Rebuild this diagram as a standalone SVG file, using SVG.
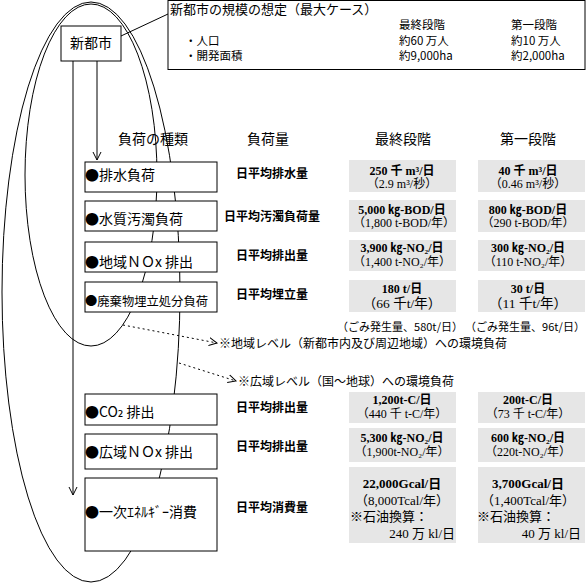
<svg xmlns="http://www.w3.org/2000/svg" width="586" height="583" viewBox="0 0 586 583">
<defs>
<marker id="v" markerWidth="10" markerHeight="10" refX="8" refY="4" orient="auto" markerUnits="userSpaceOnUse" viewBox="0 0 10 8">
<path d="M0,0 L8,4 L0,8" fill="none" stroke="#000" stroke-width="1"/>
</marker>
<style>
.box{fill:#fff;stroke:#000;stroke-width:1}
.grey{fill:#e6e6e6;stroke:none}
.g{font-family:"Noto Sans CJK JP","DejaVu Sans",sans-serif;fill:#000}
.lbl{font-size:14px}
.hd{font-size:14px;text-anchor:middle}
.amt{font-size:12px;font-weight:bold;text-anchor:middle}
.v1{font-family:"Liberation Serif","Noto Sans CJK JP",serif;font-size:12px;font-weight:bold;text-anchor:middle;fill:#000}
.v2{font-family:"Liberation Serif","Noto Sans CJK JP",serif;font-size:12px;text-anchor:middle;fill:#000}
.vl{font-family:"Liberation Serif","Noto Sans CJK JP",serif;font-size:13px;fill:#000}
.note{font-size:12px}
.info{font-size:11.5px}
.line{fill:none;stroke:#000;stroke-width:1}
.dot{fill:none;stroke:#000;stroke-width:1;stroke-dasharray:2,3}
</style>
</defs>
<rect width="586" height="583" fill="#fff"/>

<g id="connectors">
<ellipse class="line" cx="91" cy="175" rx="66" ry="171"/>
<ellipse class="line" cx="91" cy="292" rx="89" ry="290"/>
<line class="line" x1="121" y1="36" x2="168" y2="14"/>
<line class="line" x1="73" y1="61" x2="73" y2="495" marker-end="url(#v)"/>
<line class="line" x1="97" y1="61" x2="97" y2="160" marker-end="url(#v)"/>
<line class="dot" x1="123" y1="325" x2="217" y2="343" marker-end="url(#v)"/>
<line class="dot" x1="179" y1="363" x2="236" y2="381" marker-end="url(#v)"/>
</g>

<g id="city">
<rect class="box" x="61" y="26" width="60" height="35"/>
<text class="g" x="91" y="48" font-size="14" text-anchor="middle">新都市</text>
</g>

<g id="info">
<rect class="box" x="168" y="0.5" width="417" height="69"/>
<text class="g info" x="170" y="14" style="font-size:13px">新都市の規模の想定（最大ケース）</text>
<text class="g info" x="185" y="45">・人口</text>
<text class="g info" x="185" y="60">・開発面積</text>
<text class="g info" x="399" y="29">最終段階</text>
<text class="g info" x="511" y="29">第一段階</text>
<text class="g info" x="399" y="45">約60 万人</text>
<text class="g info" x="511" y="45">約10 万人</text>
<text class="g info" x="399" y="60">約9,000ha</text>
<text class="g info" x="511" y="60">約2,000ha</text>
</g>

<g id="headers">
<text class="g hd" x="153" y="144">負荷の種類</text>
<text class="g hd" x="268" y="144">負荷量</text>
<text class="g hd" x="403" y="144">最終段階</text>
<text class="g hd" x="528" y="144">第一段階</text>
</g>

<g id="row1">
<rect class="box" x="85" y="162" width="132" height="30"/>
<text class="g lbl" x="85" y="180">●排水負荷</text>
<text class="g amt" x="272" y="178">日平均排水量</text>
<rect class="grey" x="349" y="160" width="107" height="32"/>
<rect class="grey" x="478" y="160" width="107" height="32"/>
<text class="v1" x="402" y="175">250 千 m³/日</text>
<text class="v2" x="402" y="188">（2.9 m³/秒）</text>
<text class="v1" x="528" y="175">40 千 m³/日</text>
<text class="v2" x="528" y="188">（0.46 m³/秒）</text>
</g>

<g id="row2">
<rect class="box" x="85" y="201" width="132" height="30"/>
<text class="g lbl" x="85" y="224">●水質汚濁負荷</text>
<text class="g amt" x="272" y="221">日平均汚濁負荷量</text>
<rect class="grey" x="349" y="200" width="107" height="32"/>
<rect class="grey" x="478" y="200" width="107" height="32"/>
<text class="v1" x="402" y="214">5,000 ㎏-BOD/日</text>
<text class="v2" x="404" y="227">（1,800 t-BOD/年）</text>
<text class="v1" x="528" y="214">800 ㎏-BOD/日</text>
<text class="v2" x="528" y="227">（290 t-BOD/年）</text>
</g>

<g id="row3">
<rect class="box" x="85" y="242" width="132" height="30"/>
<text class="g lbl" x="85" y="267">●地域ＮＯx 排出</text>
<text class="g amt" x="272" y="260">日平均排出量</text>
<rect class="grey" x="349" y="240" width="107" height="31"/>
<rect class="grey" x="478" y="240" width="107" height="31"/>
<text class="v1" x="402" y="252">3,900 ㎏-NO₂/日</text>
<text class="v2" x="402" y="266">（1,400 t-NO₂/年）</text>
<text class="v1" x="528" y="252">300 ㎏-NO₂/日</text>
<text class="v2" x="528" y="266">（110 t-NO₂/年）</text>
</g>

<g id="row4">
<rect class="box" x="85" y="282" width="132" height="30"/>
<text class="g lbl" x="85" y="306" style="font-size:12.3px">●廃棄物埋立処分負荷</text>
<text class="g amt" x="272" y="299">日平均埋立量</text>
<rect class="grey" x="349" y="280" width="107" height="32"/>
<rect class="grey" x="478" y="280" width="107" height="32"/>
<text class="v1" x="402" y="293">180 t/日</text>
<text class="v2" x="402" y="308" style="font-size:13.5px">（66 千t/年）</text>
<text class="v1" x="528" y="293">30 t/日</text>
<text class="v2" x="528" y="308" style="font-size:13.5px">（11 千t/年）</text>
<text class="g" x="400" y="331" font-size="11" text-anchor="middle">（ごみ発生量、580t/日）</text>
<text class="g" x="525" y="331" font-size="11" text-anchor="middle">（ごみ発生量、96t/日）</text>
</g>

<g id="note-local">
<text class="g note" x="219" y="348">※地域レベル（新都市内及び周辺地域）への環境負荷</text>
</g>
<g id="note-wide">
<text class="g note" x="238" y="386">※広域レベル（国～地球）への環境負荷</text>
</g>

<g id="row5">
<rect class="box" x="85" y="394" width="132" height="31"/>
<text class="g lbl" x="85" y="417">●CO₂ 排出</text>
<text class="g amt" x="272" y="412">日平均排出量</text>
<rect class="grey" x="349" y="392" width="107" height="31"/>
<rect class="grey" x="478" y="392" width="107" height="31"/>
<text class="v1" x="402" y="404">1,200t-C/日</text>
<text class="v2" x="402" y="418">（440 千 t-C/年）</text>
<text class="v1" x="528" y="404">200t-C/日</text>
<text class="v2" x="528" y="418">（73 千 t-C/年）</text>
</g>

<g id="row6">
<rect class="box" x="85" y="434" width="132" height="35"/>
<text class="g lbl" x="85" y="457">●広域ＮＯx 排出</text>
<text class="g amt" x="272" y="451">日平均排出量</text>
<rect class="grey" x="349" y="428" width="107" height="34"/>
<rect class="grey" x="478" y="428" width="107" height="34"/>
<text class="v1" x="402" y="442">5,300 ㎏-NO₂/日</text>
<text class="v2" x="402" y="456">（1,900t-NO₂/年）</text>
<text class="v1" x="528" y="442">600 ㎏-NO₂/日</text>
<text class="v2" x="528" y="456">（220t-NO₂/年）</text>
</g>

<g id="row7">
<rect class="box" x="85" y="478" width="132" height="73"/>
<text class="g lbl" x="85" y="517">●一次ｴﾈﾙｷﾞｰ消費</text>
<text class="g amt" x="272" y="512">日平均消費量</text>
<rect class="grey" x="349" y="467" width="107" height="76"/>
<rect class="grey" x="478" y="467" width="107" height="76"/>
<text class="v1" x="402" y="488" style="font-size:13px">22,000Gcal/日</text>
<text class="v2" x="402" y="505" style="font-size:13px">（8,000Tcal/年）</text>
<text class="vl" x="350" y="521">※石油換算：</text>
<text class="vl" x="455" y="538" text-anchor="end">240 万 kl/日</text>
<text class="v1" x="528" y="488" style="font-size:13px">3,700Gcal/日</text>
<text class="v2" x="528" y="505" style="font-size:13px">（1,400Tcal/年）</text>
<text class="vl" x="477" y="521">※石油換算：</text>
<text class="vl" x="581" y="538" text-anchor="end">40 万 kl/日</text>
</g>
</svg>
